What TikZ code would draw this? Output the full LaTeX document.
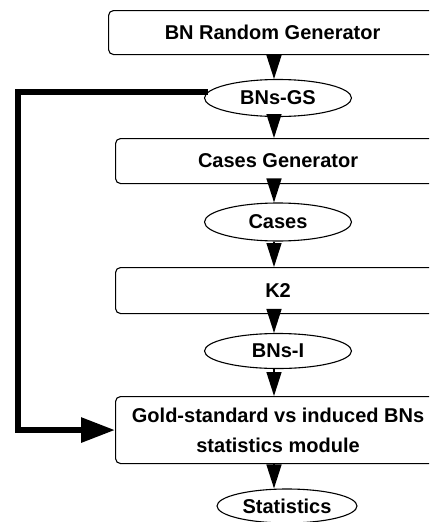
\documentclass[tikz,border=0pt]{standalone}
\usepackage{fontspec}
\setmainfont{Liberation Sans}
\usetikzlibrary{arrows.meta,shapes.geometric}
\begin{document}
\begin{tikzpicture}[x=1pt,y=-1pt,
  boxnode/.style={draw,line width=1.1pt,rounded corners=5pt,inner sep=0pt,anchor=north west,
     font=\fontsize{20}{30}\selectfont\bfseries,align=center},
  ellnode/.style={draw,ellipse,line width=1.1pt,inner sep=0pt,
     font=\fontsize{20}{24}\selectfont\bfseries},
  flow/.style={line width=1.5pt,-{Triangle[width=15pt,length=24pt]}},
  feed/.style={line width=6pt,-{Triangle[width=24pt,length=34pt]}}]
\useasboundingbox (0,0) rectangle (429,522);
\clip (0,0) rectangle (429,522);
\node[boxnode,minimum width=328pt,minimum height=44pt] (b1) at (108,10) {BN Random Generator};
\node[boxnode,minimum width=325pt,minimum height=45pt] (b2) at (115,138) {Cases Generator};
\node[boxnode,minimum width=325pt,minimum height=46pt] (b3) at (115,267) {K2};
\node[boxnode,minimum width=325pt,minimum height=67pt] (b4) at (115,396) {Gold-standard vs induced BNs\\statistics module};
\node[ellnode,minimum width=147pt,minimum height=37pt] (gs) at (278,98) {BNs-GS};
\node[ellnode,minimum width=147pt,minimum height=38pt] (cs) at (278,222) {Cases};
\node[ellnode,minimum width=147pt,minimum height=35pt] (bi) at (278,351) {BNs-I};
\node[ellnode,minimum width=140pt,minimum height=34pt] (st) at (287,506) {Statistics};
\coordinate (col) at (274,0);
\coordinate (lft) at (17.5,0);
\draw[flow] (b1.south -| col) -- (gs.north -| col);
\draw[flow] (gs.south -| col) -- (b2.north -| col);
\draw[flow] (b2.south -| col) -- (cs.north -| col);
\draw[flow] (cs.south -| col) -- (b3.north -| col);
\draw[flow] (b3.south -| col) -- (bi.north -| col);
\draw[flow] (bi.south -| col) -- (b4.north -| col);
\draw[flow] (b4.south -| col) -- (st.north -| col);
\draw[feed] (gs.175) -| (lft |- b4.west) -- (b4.west);
\end{tikzpicture}
\end{document}
